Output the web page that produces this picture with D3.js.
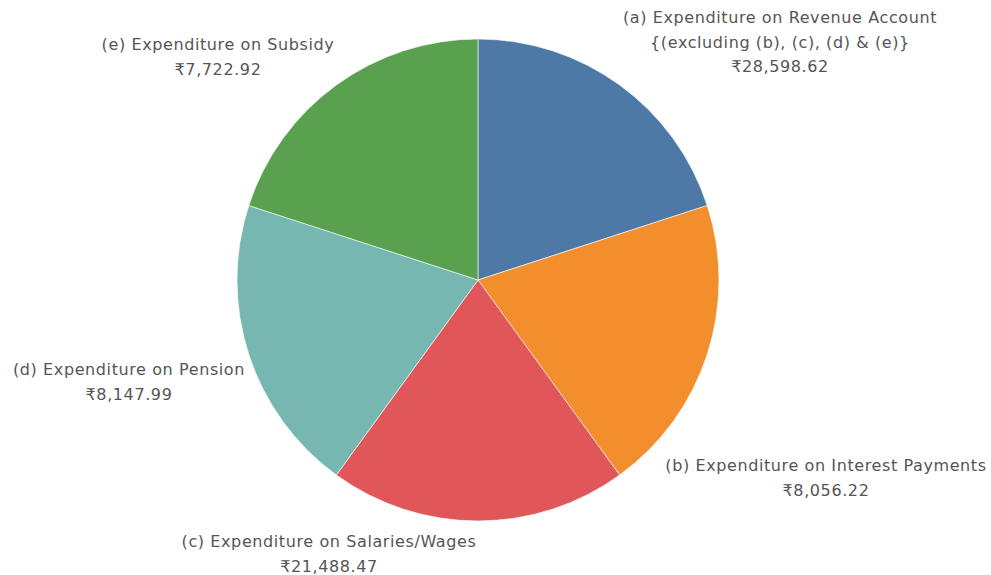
<!DOCTYPE html>
<html>
<head>
<meta charset="utf-8">
<script src="https://cdn.jsdelivr.net/npm/d3@7"></script>
<style>
  html, body { margin: 0; padding: 0; background: #fff; }
  svg text { font-family: "DejaVu Sans", "Noto Sans", sans-serif; }
</style>
</head>
<body>
<div id="chart"></div>
<script>
// ---- data ----
const categories = [
  "(a) Expenditure on Revenue Account\n{(excluding (b), (c), (d) & (e)}",
  "(b) Expenditure on Interest Payments",
  "(c) Expenditure on Salaries/Wages",
  "(d) Expenditure on Pension",
  "(e) Expenditure on Subsidy"
];
const values = [28598.62, 8056.22, 21488.47, 8147.99, 7722.92];
// the reference draws every slice with the same angle (one record per category)
const sliceWeights = [1, 1, 1, 1, 1];
const colors = ["#4e79a7", "#f28e2b", "#e15759", "#76b7b2", "#59a14f"];

// ---- layout ----
const W = 991, H = 575;
const cx = 478, cy = 280, R = 241;
// label anchor (center x, first baseline y)
const labelPos = [
  { x: 780, y: 23 },
  { x: 826, y: 471 },
  { x: 329, y: 547 },
  { x: 129, y: 375 },
  { x: 218, y: 50 }
];
const lineH = 24.5;

const svg = d3.select("#chart").append("svg")
  .attr("width", W).attr("height", H);

const pie = d3.pie().sort(null).value((d, i) => sliceWeights[i]);
const arc = d3.arc().innerRadius(0).outerRadius(R);
const arcs = pie(values);

const g = svg.append("g").attr("transform", `translate(${cx},${cy})`);
g.selectAll("path").data(arcs).enter().append("path")
  .attr("d", arc)
  .attr("fill", (d, i) => colors[i])
  .attr("stroke", "#fff")
  .attr("stroke-width", 0.6);

const fmt = d3.format(",.2f");
const labels = svg.append("g");
arcs.forEach((d, i) => {
  const lines = categories[i].split("\n").concat(["₹" + fmt(values[i])]);
  const t = labels.append("text")
    .attr("text-anchor", "middle")
    .attr("fill", "#555")
    .attr("font-size", 16)
    .attr("letter-spacing", 0.6);
  lines.forEach((ln, k) => {
    t.append("tspan")
      .attr("x", labelPos[i].x)
      .attr("y", labelPos[i].y + k * lineH)
      .text(ln);
  });
});
</script>
</body>
</html>
